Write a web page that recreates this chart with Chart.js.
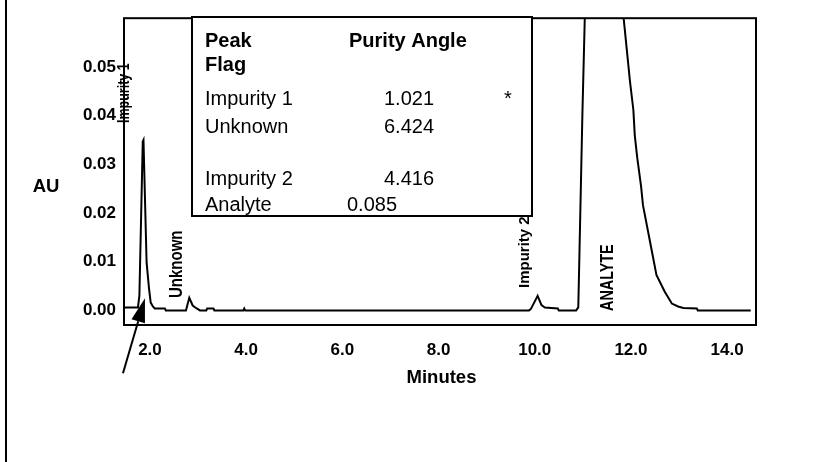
<!DOCTYPE html>
<html><head><meta charset="utf-8">
<script src="https://cdn.jsdelivr.net/npm/chart.js@4.4.1/dist/chart.umd.min.js"></script>
<style>html,body{margin:0;padding:0;background:#fff}#wrap{width:831px;height:462px;position:relative}</style>
</head><body><div id="wrap"><canvas id="c" width="831" height="462"></canvas></div>
<script>
// ---- data ----
const minutes = [1.46, 1.75, 1.78, 1.85, 1.865, 1.93, 1.98, 2.015, 2.06, 2.10, 2.31, 2.33,
  2.748, 2.817, 2.888, 2.971, 3.04, 3.17, 3.19, 3.32, 3.34, 3.94, 3.96, 3.98,
  9.88, 9.92, 10.06, 10.14, 10.21, 10.48, 10.50, 10.86,
  10.905, 10.93, 10.96, 10.99, 11.02, 11.04, 11.45, 11.85, 11.98, 12.05, 12.08, 12.13,
  12.21, 12.25, 12.43, 12.53, 12.70, 12.85, 12.98, 13.09, 13.37, 13.39, 14.49];
const absorbance = [0.0006, 0.0006, 0.003, 0.0347, 0.035, 0.0098, 0.0045, 0.0016, 0.0008, 0.0004, 0.0004, 0,
  0, 0.0026, 0.001, 0.0004, 0, 0, 0.0004, 0.0004, 0, 0, 0.0004, 0,
  0, 0.0003, 0.003, 0.0011, 0.0006, 0.0004, 0, 0,
  0.0006, 0.012, 0.026, 0.040, 0.052, 0.060, 0.10, 0.0598, 0.047, 0.0412, 0.0359, 0.0314,
  0.0255, 0.0216, 0.0124, 0.0073, 0.0039, 0.0014, 0.0008, 0.0005, 0.0004, 0, 0];
const xTickValues = [2, 4, 6, 8, 10, 12, 14];
const yTickValues = [0, 0.01, 0.02, 0.03, 0.04, 0.05];
const peakNames = ['Impurity 1', 'Unknown', 'Impurity 2', 'ANALYTE'];
const peakTimes = [1.865, 2.817, 10.06, 11.45];
const tableHeadLeft = ['Peak', 'Flag'];
const tableHeadRight = 'Purity Angle';
const tableRows = ['Impurity 1', 'Unknown', 'Impurity 2', 'Analyte'];
const tableAngles = ['1.021', '6.424', '4.416', '0.085'];
const tableFlags = ['*', '', '', ''];
const xTitle = 'Minutes';
const yTitle = 'AU';

const FONT = "'Liberation Sans', Arial, Helvetica, sans-serif";

const annot = {
  id: 'annot',
  afterDraw(chart) {
    const ctx = chart.ctx, ca = chart.chartArea;
    const xs = chart.scales.x, ys = chart.scales.y;
    ctx.save();
    ctx.strokeStyle = '#000'; ctx.fillStyle = '#000';
    // outer frame left edge
    ctx.lineWidth = 2;
    ctx.beginPath(); ctx.moveTo(6, 0); ctx.lineTo(6, 462); ctx.stroke();
    // plot frame
    ctx.strokeRect(ca.left, ca.top, ca.right - ca.left, ca.bottom - ca.top);
    // axis titles
    ctx.textBaseline = 'alphabetic';
    ctx.textAlign = 'center';
    ctx.font = 'bold 18.5px ' + FONT;
    ctx.fillText(yTitle, 46, 191.5);
    ctx.fillText(xTitle, (ca.left + ca.right) / 2 + 1.5, 382.5);

    // inset table
    ctx.fillStyle = '#fff';
    ctx.fillRect(192, 17, 340, 199);
    ctx.strokeRect(192, 17, 340, 199);
    ctx.fillStyle = '#000';
    ctx.textAlign = 'left';
    ctx.font = 'bold 20px ' + FONT;
    ctx.fillText(tableHeadLeft[0], 205, 46.5);
    ctx.fillText(tableHeadLeft[1], 205, 70.5);
    ctx.fillText(tableHeadRight, 349, 46.5);
    ctx.font = '20px ' + FONT;
    const rowBase = [105, 133, 185, 211];
    const numX = [384, 384, 384, 347];
    tableRows.forEach((r, i) => {
      ctx.fillText(r, 205, rowBase[i]);
      ctx.fillText(tableAngles[i], numX[i], rowBase[i]);
      if (tableFlags[i]) ctx.fillText(tableFlags[i], 504, rowBase[i]);
    });

    // rotated peak labels
    const dx = [-14.5, -7.6, -8.4, 8.5];
    const startY = [123, 298, 288, 311];
    const fs = [12.5, 15, 15, 14.4];
    const stretch = [1.3, 1.2, 1.0, 1.25];
    peakNames.forEach((n, i) => {
      const px = xs.getPixelForValue(peakTimes[i]) + dx[i];
      ctx.save();
      ctx.translate(px, startY[i]);
      ctx.rotate(-Math.PI / 2);
      ctx.scale(1, stretch[i]);
      ctx.font = 'bold ' + fs[i] + 'px ' + FONT;
      ctx.textAlign = 'left';
      ctx.textBaseline = 'alphabetic';
      ctx.fillText(n, 0, 0);
      ctx.restore();
    });

    // arrow pointing at Impurity 1 peak foot
    const tx = xs.getPixelForValue(1.896), ty = ys.getPixelForValue(0.0025);
    const sx = tx - 22, sy = ty + 75;
    const L = Math.hypot(tx - sx, ty - sy);
    const ux = (tx - sx) / L, uy = (ty - sy) / L;
    const bx = tx - ux * 24, by = ty - uy * 24;
    ctx.lineWidth = 2;
    ctx.beginPath(); ctx.moveTo(sx, sy); ctx.lineTo(bx, by); ctx.stroke();
    ctx.beginPath();
    ctx.moveTo(tx, ty);
    ctx.lineTo(bx - uy * 7, by + ux * 7);
    ctx.lineTo(bx + uy * 7, by - ux * 7);
    ctx.closePath(); ctx.fill();
    ctx.restore();
  }
};

new Chart(document.getElementById('c'), {
  type: 'line',
  data: {
    datasets: [{
      data: minutes.map((t, i) => ({ x: t, y: absorbance[i] })),
      borderColor: '#000',
      borderWidth: 2,
      pointRadius: 0,
      tension: 0,
      fill: false
    }]
  },
  options: {
    responsive: false,
    animation: false,
    devicePixelRatio: 1,
    layout: { padding: { left: 0, top: 5, right: 75, bottom: 0 } },
    plugins: { legend: { display: false }, tooltip: { enabled: false }, title: { display: false } },
    scales: {
      x: {
        type: 'linear', min: 1.46, max: 14.6,
        grid: { display: false, drawTicks: false },
        border: { display: false },
        afterFit(s) { s.height = 137; },
        afterBuildTicks(s) { s.ticks = xTickValues.map(v => ({ value: v })); },
        ticks: {
          padding: 15, color: '#000', maxRotation: 0, autoSkip: false,
          font: { family: FONT, size: 17, weight: 'bold' },
          callback: v => Number(v).toFixed(1)
        }
      },
      y: {
        type: 'linear', min: -0.003, max: 0.06,
        grid: { display: false, drawTicks: false },
        border: { display: false },
        afterFit(s) { s.width = 124; },
        afterBuildTicks(s) { s.ticks = yTickValues.map(v => ({ value: v })); },
        ticks: {
          padding: 8, color: '#000', autoSkip: false,
          font: { family: FONT, size: 17, weight: 'bold' },
          callback: v => Number(v).toFixed(2)
        }
      }
    }
  },
  plugins: [annot]
});
</script>
</body></html>
